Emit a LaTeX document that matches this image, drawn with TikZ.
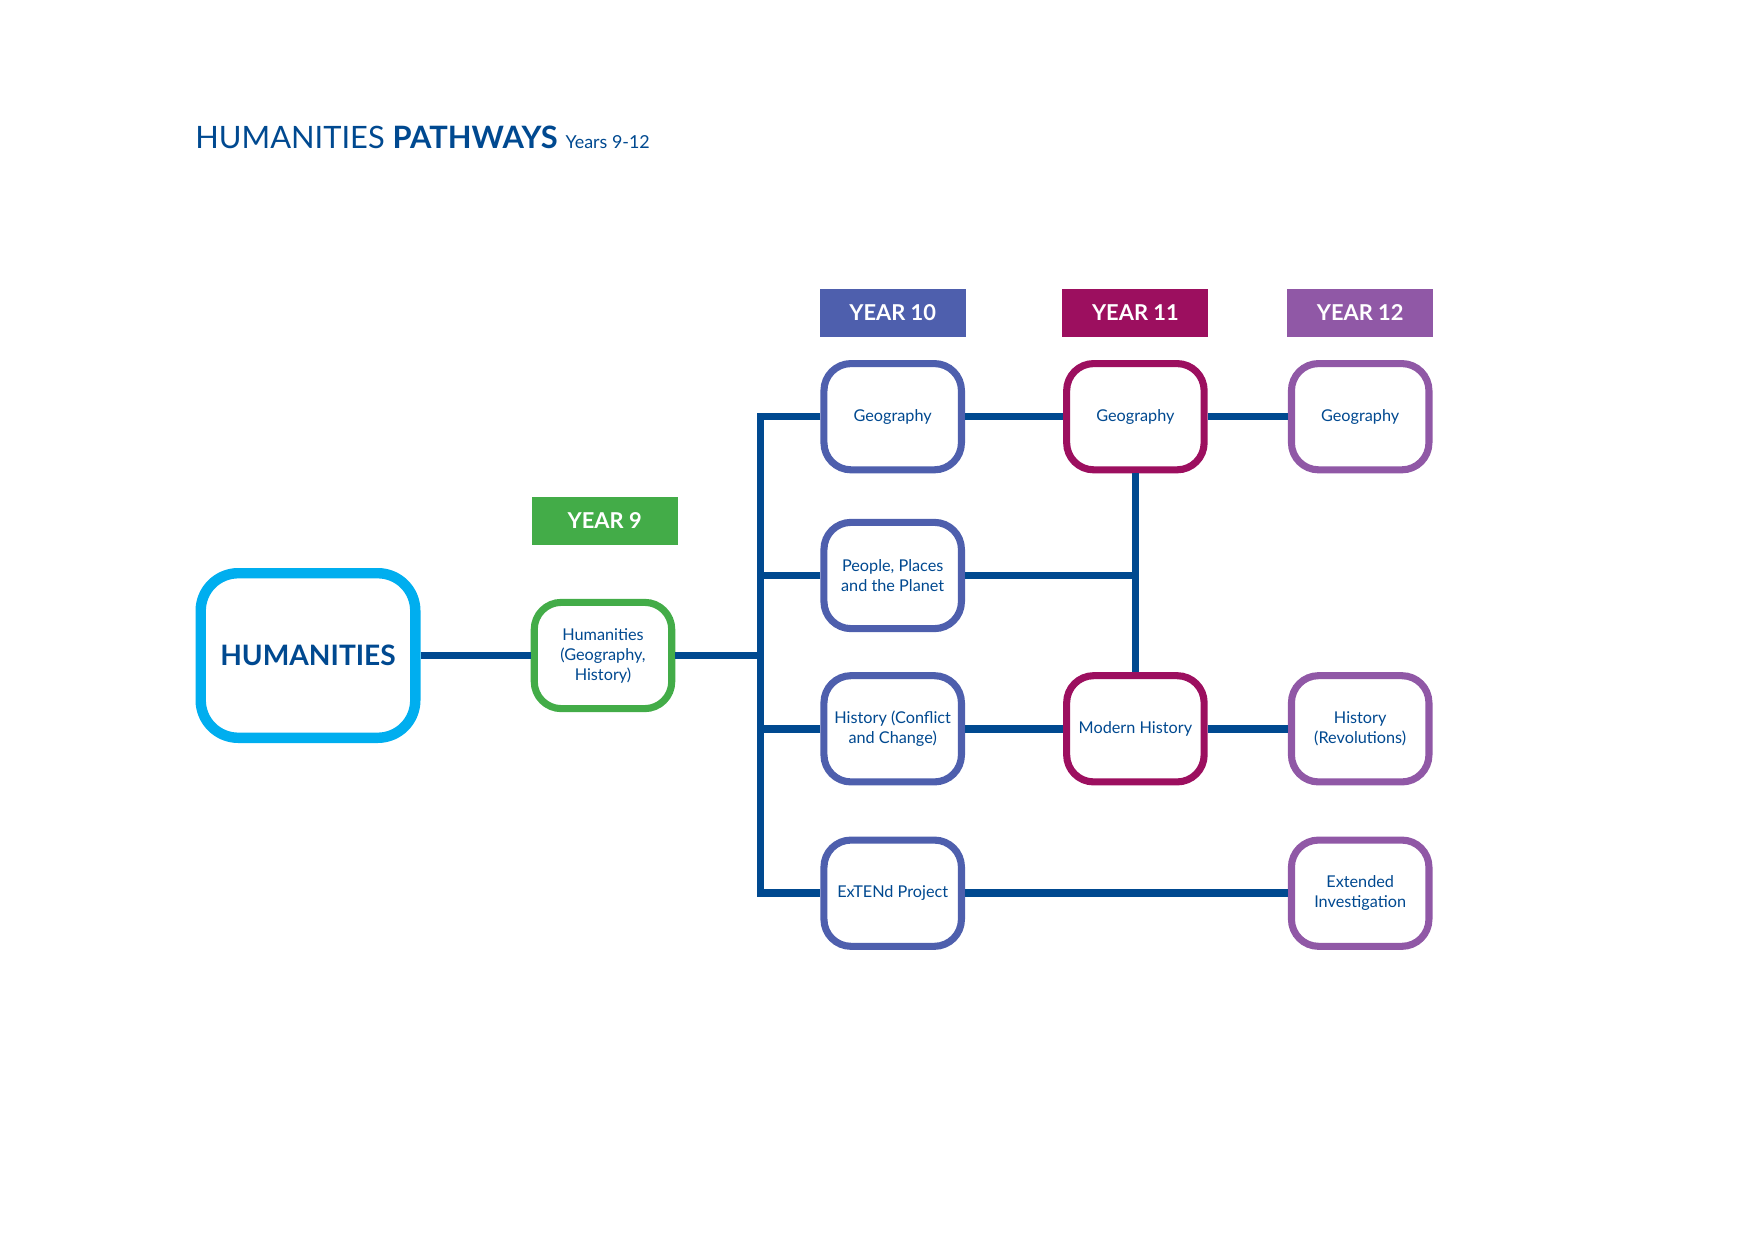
\documentclass[tikz,border=0pt]{standalone}
\usepackage{fontspec}
\setmainfont{Lato}
\definecolor{navy}{RGB}{0,73,144}
\definecolor{cyanb}{RGB}{0,174,239}
\definecolor{y9}{RGB}{67,172,72}
\definecolor{y10}{RGB}{78,95,173}
\definecolor{y11}{RGB}{156,15,95}
\definecolor{y12}{RGB}{144,88,166}

\begin{document}
\begin{tikzpicture}[x=0.48pt,y=-0.48pt,
  b/.style={draw=#1, line width=3.4pt, rounded corners=13pt, fill=white,
    minimum width=66pt, minimum height=51pt, inner sep=1pt, align=center,
    text=navy, font=\fontsize{7.8}{9.6}\selectfont},
  hd/.style={fill=#1, text=white, minimum width=70pt, minimum height=23pt,
    font=\bfseries\fontsize{10.5}{12}\selectfont},
  l/.style={draw=navy, line width=3.6pt}]
\useasboundingbox (0,0) rectangle (1754,1240);

\node[anchor=base west, inner sep=0, text=navy, font=\fontsize{14.8}{17}\selectfont] (title) at (195,149)
  {HUMANITIES \textbf{PATHWAYS} {\fontsize{8.6}{10}\selectfont Years 9-12}};

% year headers
\node[hd=y9] (Y9) at (604.7,520.7) {YEAR 9};
\foreach \c/\x/\n in {y10/892.7/10, y11/1135.4/11, y12/1360.2/12}
  \node[hd=\c] (Y\n) at (\x,312.6) {YEAR \n};

% boxes
\node[b=cyanb, line width=5pt, rounded corners=18pt, minimum width=103pt, minimum height=79pt,
  font=\bfseries\fontsize{13.5}{16}\selectfont] (hum) at (308,655.5) {HUMANITIES};
\node[b=y9] (h9) at (603,655.5) {Humanities\\(Geography,\\History)};

\node[b=y10] (geo10) at (892.7,416.7) {Geography};
\node[b=y10] (ppl10) at (892.7,575.5) {People, Places\\and the Planet};
\node[b=y10] (hist10) at (892.7,728.8) {History (Conflict\\and Change)};
\node[b=y10] (ext10) at (892.7,893.2) {ExTENd Project};

\node[b=y11] (geo11) at (1135.4,416.7) {Geography};
\node[b=y11] (mod11) at (1135.4,728.8) {Modern History};

\node[b=y12] (geo12) at (1360.2,416.7) {Geography};
\node[b=y12] (rev12) at (1360.2,728.8) {History\\(Revolutions)};
\node[b=y12] (inv12) at (1360.2,893.2) {Extended\\Investigation};

% links
\coordinate (tr) at (760.7,655.5);
\draw[l] (hum) -- (h9);
\draw[l] (h9) -- (tr);
\draw[l] (geo10) -| (tr) |- (ext10);
\draw[l] (ppl10) -- (ppl10 -| tr);
\draw[l] (hist10) -- (hist10 -| tr);
\draw[l] (geo10) -- (geo11);
\draw[l] (geo11) -- (geo12);
\draw[l] (geo11) -- (mod11);
\draw[l] (ppl10) -- (ppl10 -| geo11);
\draw[l] (hist10) -- (mod11) -- (rev12);
\draw[l] (ext10) -- (inv12);

\end{tikzpicture}
\end{document}
